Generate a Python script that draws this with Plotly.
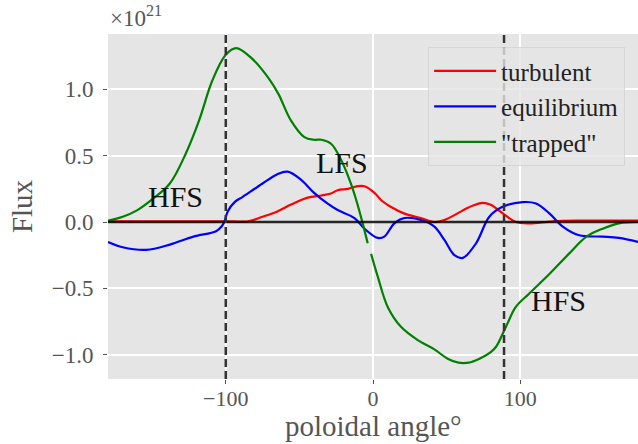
import plotly.graph_objects as go

# ---------------- data ----------------
turb_x = [-180, -150, -120, -95, -85, -75, -65, -56, -48, -42, -35, -28.5, -24, -17, -10.4, -5.8,
          1, 6, 12, 21, 32.6, 41.7, 48.5, 57.5, 63, 68, 74.5, 80, 84, 90, 97, 106, 122, 140, 160, 180]
turb_y = [0.005, 0.005, 0.005, 0.005, 0.005, 0.04, 0.08, 0.13, 0.17, 0.19, 0.20, 0.215, 0.24, 0.25, 0.27, 0.27,
          0.22, 0.16, 0.115, 0.065, 0.03, 0.0, 0.015, 0.065, 0.10, 0.125, 0.145, 0.13, 0.10, 0.05, 0.0, -0.01, 0.005, 0.01, 0.01, 0.01]

equi_x = [-180, -170, -154, -138, -122, -106.6, -103, -101, -98.7, -94, -88.5, -75, -65, -58, -49, -40, -31, -24,
          -12.6, -5.8, 3.2, 7.7, 14.5, 21.3, 32.6, 41.7, 48.5, 55.3, 61, 70, 79, 88, 101.7, 110.7, 119.8, 128.9,
          140, 156, 167, 180]
equi_y = [-0.15, -0.19, -0.21, -0.17, -0.11, -0.07, -0.035, 0.0, 0.08, 0.15, 0.19, 0.29, 0.36, 0.38, 0.32, 0.22, 0.14, 0.09,
          0.03, -0.05, -0.12, -0.11, -0.01, 0.03, 0.015, -0.035, -0.135, -0.25, -0.27, -0.16, 0.04, 0.115, 0.15, 0.14, 0.065, -0.035,
          -0.10, -0.11, -0.12, -0.15]

trap_x = [-180, -170, -160, -150, -138, -127, -118, -109, -100, -93, -82, -70, -64, -56, -46.6, -40, -35, -28.5,
          -21.7, -15, -11.5, -7, -3.6, None, -1.3, 3.2, 10, 19, 30.4, 41.7, 50.7, 58, 65, 72.3, 80, 83.6, 90.3, 97,
          106, 120, 133, 145, 156, 167, 180]
trap_y = [0.01, 0.04, 0.09, 0.17, 0.29, 0.52, 0.77, 1.07, 1.26, 1.31, 1.23, 1.07, 0.96, 0.77, 0.64, 0.62, 0.62, 0.59,
          0.47, 0.29, 0.17, -0.01, -0.16, None, -0.24, -0.41, -0.64, -0.79, -0.89, -0.96, -1.03, -1.06, -1.06, -1.03, -0.98, -0.94, -0.79, -0.64,
          -0.54, -0.39, -0.24, -0.11, -0.05, -0.01, 0.0]

series_names = ["turbulent", "equilibrium", "\"trapped\""]
series_colors = ["#ff0000", "#0000ff", "#008000"]

separatrix_x = [-100, 89]
region_labels = ["HFS", "LFS", "HFS"]
region_x = [-134, -21, 126]
region_y = [0.196, 0.45, -0.59]

x_ticks = [-100, 0, 100]
x_ticklabels = ["\u2212100", "0", "100"]
y_ticks = [-1.0, -0.5, 0.0, 0.5, 1.0]
y_ticklabels = ["\u22121.0", "\u22120.5", "0.0", "0.5", "1.0"]
x_title = "poloidal angle\u00b0"
y_title = "Flux"

FONT = "Liberation Serif"
GRAY = "#555555"

fig = go.Figure()
for xs, ys, name, col in zip([turb_x, equi_x, trap_x], [turb_y, equi_y, trap_y], series_names, series_colors):
    fig.add_trace(go.Scatter(x=xs, y=ys, mode="lines", name=name,
                             line=dict(color=col, width=2.2, shape="spline", smoothing=1.0),
                             connectgaps=False))

# zero line
fig.add_trace(go.Scatter(x=[-180, 180], y=[0, 0], mode="lines", showlegend=False,
                         line=dict(color="rgba(0,0,0,0.85)", width=2.5)))

for sx in separatrix_x:
    fig.add_shape(type="line", x0=sx, x1=sx, y0=0, y1=1, xref="x", yref="y domain",
                  line=dict(color="#333333", width=2.5, dash="8px,4px"), layer="above")

for t, xx, yy in zip(region_labels, region_x, region_y):
    fig.add_annotation(x=xx, y=yy, text=t, showarrow=False,
                       font=dict(family=FONT, size=30, color="#111111"),
                       xanchor="center", yanchor="middle")

fig.add_annotation(x=0, y=1.0, xref="paper", yref="paper", text="\u00d710<sup>21</sup>",
                   showarrow=False, xanchor="left", yanchor="bottom", yshift=1,
                   font=dict(family=FONT, size=23, color=GRAY))

# x-axis title placed as annotation for exact vertical control
fig.add_annotation(x=0.5, y=0, xref="paper", yref="paper", text=x_title,
                   showarrow=False, xanchor="center", yanchor="bottom", yshift=-65,
                   font=dict(family=FONT, size=29, color=GRAY))

fig.update_layout(
    width=638, height=444,
    margin=dict(l=108, r=0, t=34, b=65),
    paper_bgcolor="white",
    plot_bgcolor="#e5e5e5",
    font=dict(family=FONT, color=GRAY),
    showlegend=True,
    legend=dict(x=0.604, y=0.962, xanchor="left", yanchor="top",
                bgcolor="rgba(229,229,229,0.8)", bordercolor="rgba(210,210,210,0.8)", borderwidth=1,
                font=dict(family=FONT, size=25, color="#222222"), itemwidth=62,
                tracegroupgap=0),
    xaxis=dict(range=[-180, 180], tickvals=x_ticks, ticktext=x_ticklabels,
               showgrid=True, gridcolor="white", gridwidth=1.5, zeroline=False,
               ticks="outside", ticklen=4, tickcolor=GRAY, tickwidth=1, ticklabelstandoff=-4,
               tickfont=dict(family=FONT, size=22, color=GRAY),
               showline=False),
    yaxis=dict(range=[-1.183, 1.417], tickvals=y_ticks, ticktext=y_ticklabels,
               showgrid=True, gridcolor="white", gridwidth=1.5, zeroline=False,
               ticks="outside", ticklen=4, tickcolor=GRAY, tickwidth=1, ticklabelstandoff=5,
               tickfont=dict(family=FONT, size=23, color=GRAY),
               title=dict(text=y_title, font=dict(family=FONT, size=29, color=GRAY), standoff=10),
               showline=False),
)

fig.write_html("out.html")
